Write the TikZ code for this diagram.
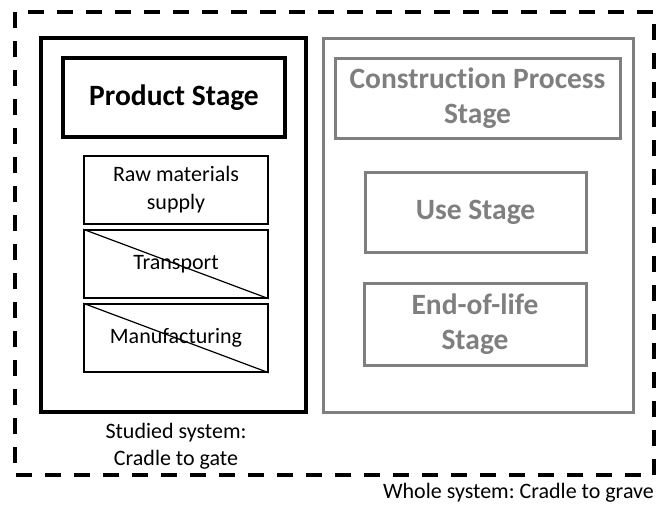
\documentclass[tikz,border=0pt]{standalone}
\usepackage{fontspec}
\setmainfont{Carlito}[Ligatures=NoCommon]
\frenchspacing
\definecolor{stagegray}{RGB}{127,127,127}
\tikzset{
  blackbox/.style={draw=black, line width=3.3pt},
  graybox/.style={draw=stagegray, line width=3pt},
  subbox/.style={draw=black, line width=1.4pt, align=center, font=\fontsize{22}{28}\selectfont, inner sep=0pt},
  bigtext/.style={align=center, font=\bfseries\fontsize{29.5}{34.5}\selectfont, inner sep=0pt},
  plain/.style={align=center, font=\fontsize{22}{27}\selectfont, inner sep=0pt},
}
\begin{document}
\begin{tikzpicture}[x=1pt,y=-1pt]
\useasboundingbox (0,0) rectangle (660,504);
% outer dashed system
\draw[line width=3.3pt, dash pattern=on 16pt off 13pt] (15,12) rectangle (654,475);
% left studied system
\node[blackbox, minimum width=265pt, minimum height=374pt, inner sep=0pt] (left) at (173.5,225) {};
\node[blackbox, line width=3.8pt, bigtext, minimum width=222pt, minimum height=79pt] (prod) at (174,97.5) {Product Stage};
\node[subbox, minimum width=184pt, minimum height=68pt] (raw) at (176,190) {Raw materials\\supply};
\node[subbox, minimum width=184pt, minimum height=68pt] (tr) at (176,264) {Transport};
\node[subbox, minimum width=184pt, minimum height=68pt] (man) at (176,338) {Manufacturing};
\draw[line width=1.2pt] (tr.north west) -- (tr.south east);
\draw[line width=1.2pt] (man.north west) -- (man.south east);
% right gray
\node[graybox, minimum width=310pt, minimum height=374pt, inner sep=0pt] (right) at (478,225) {};
\node[graybox, bigtext, text=stagegray, minimum width=285pt, minimum height=80pt] (cons) at (477.5,98) {Construction Process\\Stage};
\node[graybox, bigtext, text=stagegray, minimum width=221pt, minimum height=80pt] (use) at (475.5,212) {Use Stage};
\node[graybox, bigtext, text=stagegray, minimum width=222pt, minimum height=82pt] (eol) at (475,324) {End-of-life\\Stage};
% labels
\node[plain] (studied) at (176,446) {Studied system:\\Cradle to gate};
\node[plain, anchor=east] (whole) at (654,493) {Whole system: Cradle to grave};
\end{tikzpicture}
\end{document}
